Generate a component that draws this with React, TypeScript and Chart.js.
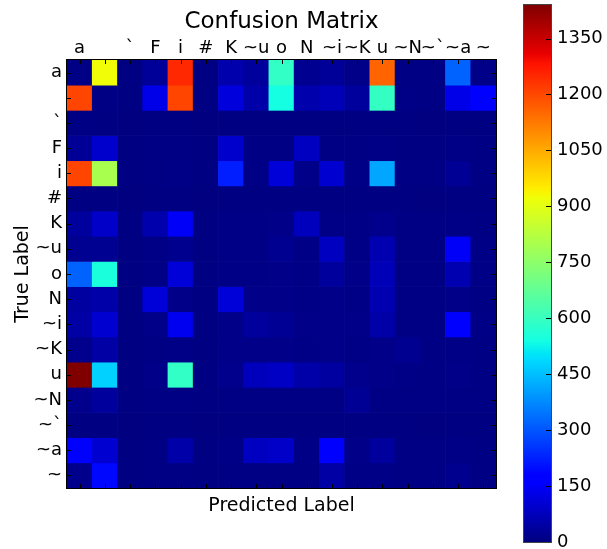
import React, { useEffect, useRef } from "react";
import { Chart, registerables } from "chart.js";

Chart.register(...registerables);
Chart.defaults.font.family = "'DejaVu Sans', sans-serif";
Chart.defaults.color = "#000";

// Class labels (rows = true label, columns = predicted label)
const classLabels = ["a", "", "`", "F", "i", "#", "K", "~u", "o", "N", "~i", "~K", "u", "~N", "~`", "~a", "~"];

// Confusion matrix counts, one array per true label
const rowA = [8, 925, 3, 30, 1250, 3, 55, 35, 590, 20, 30, 10, 1158, 5, 5, 320, 12];
const rowBlank = [1205, 5, 3, 130, 1205, 3, 115, 50, 540, 55, 70, 35, 595, 8, 5, 130, 175];
const rowGrave = [5, 3, 2, 3, 3, 2, 3, 3, 3, 3, 3, 3, 3, 3, 2, 3, 3];
const rowF = [28, 95, 3, 5, 5, 3, 95, 5, 5, 80, 5, 5, 8, 3, 3, 8, 5];
const rowI = [1205, 800, 3, 5, 8, 3, 222, 8, 110, 10, 100, 8, 415, 5, 5, 25, 5];
const rowHash = [3, 3, 2, 3, 3, 2, 3, 3, 3, 3, 3, 3, 3, 3, 2, 3, 3];
const rowK = [35, 90, 3, 55, 150, 3, 8, 8, 12, 75, 8, 8, 15, 5, 5, 8, 5];
const rowTildeU = [22, 22, 3, 8, 18, 3, 8, 8, 20, 8, 80, 8, 60, 5, 5, 150, 8];
const rowO = [320, 550, 3, 8, 110, 3, 8, 8, 12, 8, 35, 12, 70, 5, 5, 60, 8];
const rowN = [40, 50, 3, 110, 10, 3, 110, 10, 12, 8, 10, 8, 60, 5, 5, 10, 5];
const rowTildeI = [45, 100, 3, 10, 140, 3, 10, 35, 25, 10, 12, 12, 50, 5, 5, 160, 8];
const rowTildeK = [15, 45, 3, 5, 8, 3, 12, 12, 12, 8, 10, 8, 12, 20, 5, 8, 5];
const rowU = [1440, 475, 3, 10, 590, 3, 15, 75, 85, 50, 40, 15, 10, 8, 5, 10, 5];
const rowTildeN = [15, 35, 3, 5, 5, 3, 5, 5, 5, 5, 5, 25, 5, 5, 5, 5, 5];
const rowTildeGrave = [3, 3, 2, 3, 3, 2, 3, 3, 3, 3, 3, 3, 3, 3, 2, 3, 3];
const rowTildeA = [170, 100, 3, 5, 50, 3, 8, 80, 90, 8, 160, 12, 35, 5, 5, 8, 5];
const rowTilde = [15, 190, 3, 5, 5, 3, 5, 5, 5, 5, 45, 8, 8, 5, 5, 18, 5];

const matrix = [
  rowA, rowBlank, rowGrave, rowF, rowI, rowHash, rowK, rowTildeU, rowO,
  rowN, rowTildeI, rowTildeK, rowU, rowTildeN, rowTildeGrave, rowTildeA, rowTilde,
];

const vmin = 0;
const vmax = 1440;
const colorbarTicks = [0, 150, 300, 450, 600, 750, 900, 1050, 1200, 1350];

// matplotlib "jet" colormap
const JR = [[0, 0], [0.35, 0], [0.66, 1], [0.89, 1], [1, 0.5]];
const JG = [[0, 0], [0.125, 0], [0.375, 1], [0.64, 1], [0.91, 0], [1, 0]];
const JB = [[0, 0.5], [0.11, 1], [0.34, 1], [0.65, 0], [1, 0]];
const JET_STOPS = [0, 0.11, 0.125, 0.34, 0.35, 0.375, 0.64, 0.65, 0.66, 0.89, 0.91, 1];

function seg(x: number, pts: number[][]) {
  for (let i = 0; i < pts.length - 1; i++) {
    const [x0, y0] = pts[i];
    const [x1, y1] = pts[i + 1];
    if (x <= x1) return y0 + ((y1 - y0) * (x - x0)) / (x1 - x0 || 1);
  }
  return pts[pts.length - 1][1];
}
function jet(f: number) {
  const x = Math.max(0, Math.min(1, f));
  const r = Math.round(seg(x, JR) * 255);
  const g = Math.round(seg(x, JG) * 255);
  const b = Math.round(seg(x, JB) * 255);
  return `rgb(${r},${g},${b})`;
}

const matrixFrame = {
  id: "matrixFrame",
  afterDraw(chart: any) {
    const { ctx, chartArea } = chart;
    const { left, top, right, bottom } = chartArea;
    const xs = chart.scales.x;
    const ys = chart.scales.y;
    ctx.save();
    ctx.strokeStyle = "#000";
    ctx.lineWidth = 1;
    ctx.beginPath();
    for (let i = 0; i < classLabels.length; i++) {
      const px = Math.round(xs.getPixelForValue(i)) + 0.5;
      ctx.moveTo(px, top);
      ctx.lineTo(px, top + 4);
      ctx.moveTo(px, bottom);
      ctx.lineTo(px, bottom - 4);
      const py = Math.round(ys.getPixelForValue(i + 0.5)) + 0.5;
      ctx.moveTo(left, py);
      ctx.lineTo(left + 4, py);
      ctx.moveTo(right, py);
      ctx.lineTo(right - 4, py);
    }
    ctx.stroke();
    ctx.strokeRect(Math.round(left) - 0.5, Math.round(top) - 0.5, Math.round(right - left) + 1, Math.round(bottom - top) + 1);
    ctx.restore();
  },
};

const colorbarFrame = {
  id: "colorbarFrame",
  afterDraw(chart: any) {
    const { ctx, chartArea } = chart;
    const { left, top, right, bottom } = chartArea;
    const ys = chart.scales.y;
    ctx.save();
    ctx.strokeStyle = "#000";
    ctx.lineWidth = 1;
    ctx.beginPath();
    for (const v of colorbarTicks) {
      const py = Math.round(ys.getPixelForValue(v)) + 0.5;
      ctx.moveTo(right, py);
      ctx.lineTo(right - 5, py);
    }
    ctx.stroke();
    ctx.strokeStyle = "#444";
    ctx.strokeRect(Math.round(left) - 0.5, Math.round(top) - 0.5, Math.round(right - left) + 1, Math.round(bottom - top) + 1);
    ctx.restore();
  },
};

export default function App() {
  const matRef = useRef<HTMLCanvasElement>(null);
  const cbRef = useRef<HTMLCanvasElement>(null);

  useEffect(() => {
    const datasets = matrix.map((row, r) => ({
      label: classLabels[r] || " ",
      data: row.map(() => 1),
      backgroundColor: row.map((v) => jet((v - vmin) / (vmax - vmin))),
      borderWidth: 0,
      barPercentage: 1,
      categoryPercentage: 1,
    }));

    const mat = new Chart(matRef.current as HTMLCanvasElement, {
      type: "bar",
      data: { labels: classLabels, datasets },
      options: {
        responsive: false,
        animation: false,
        layout: { padding: 0 },
        plugins: {
          legend: { display: false },
          tooltip: { enabled: false },
          title: {
            display: true,
            text: "Confusion Matrix",
            color: "#000",
            font: { size: 23, weight: "normal" },
            padding: { top: 8, bottom: 0 },
          },
        },
        scales: {
          x: {
            type: "category",
            position: "top",
            stacked: true,
            grid: { display: false, drawTicks: false },
            border: { display: false },
            ticks: { font: { size: 18 }, padding: 1, maxRotation: 0, autoSkip: false },
            afterFit: (s: any) => { s.height = 24.4; s.paddingLeft = 0; s.paddingRight = 0; },
          },
          xb: {
            type: "category",
            position: "bottom",
            grid: { display: false, drawTicks: false },
            border: { display: false },
            ticks: { display: false },
            title: { display: true, text: "Predicted Label", font: { size: 19 }, padding: { top: 0, bottom: 32 } },
            afterFit: (s: any) => { s.height = 61; s.paddingLeft = 0; s.paddingRight = 0; },
          },
          y: {
            type: "linear",
            stacked: true,
            reverse: true,
            min: 0,
            max: classLabels.length,
            grid: { display: false, drawTicks: false },
            border: { display: false },
            afterBuildTicks: (s: any) => { s.ticks = classLabels.map((_, i) => ({ value: i + 0.5 })); },
            ticks: { font: { size: 18 }, padding: 5, autoSkip: false, callback: (_v: any, i: number) => classLabels[i] },
            title: { display: true, text: "True Label", font: { size: 19 }, padding: { top: 12, bottom: 0 } },
            afterFit: (s: any) => { s.width = 67; s.paddingTop = 0; s.paddingBottom = 0; },
          },
          yr: {
            type: "linear",
            position: "right",
            min: 0,
            max: 1,
            grid: { display: false, drawTicks: false },
            border: { display: false },
            ticks: { display: false },
            afterFit: (s: any) => { s.width = 67; s.paddingTop = 0; s.paddingBottom = 0; },
          },
        },
      } as any,
      plugins: [matrixFrame],
    });

    const cb = new Chart(cbRef.current as HTMLCanvasElement, {
      type: "bar",
      data: {
        labels: [""],
        datasets: [
          {
            data: [[vmin, vmax]] as any,
            borderWidth: 0,
            barPercentage: 1,
            categoryPercentage: 1,
            backgroundColor: (c: any) => {
              const a = c.chart.chartArea;
              if (!a) return "#00f";
              const g = c.chart.ctx.createLinearGradient(0, a.bottom, 0, a.top);
              JET_STOPS.forEach((s) => g.addColorStop(s, jet(s)));
              return g;
            },
          },
        ],
      },
      options: {
        responsive: false,
        animation: false,
        layout: { padding: { left: 24, top: 5, bottom: 7, right: 0 } },
        plugins: { legend: { display: false }, tooltip: { enabled: false }, title: { display: false } },
        scales: {
          x: { display: false },
          y: {
            position: "right",
            min: vmin,
            max: vmax,
            grid: { display: false, drawTicks: false },
            border: { display: false },
            afterBuildTicks: (s: any) => { s.ticks = colorbarTicks.map((v) => ({ value: v })); },
            ticks: { font: { size: 18 }, padding: 6, color: "#000", callback: (v: any) => String(v) },
            afterFit: (s: any) => { s.width = 56; s.paddingTop = 0; s.paddingBottom = 0; },
          },
        },
      } as any,
      plugins: [colorbarFrame],
    });

    return () => {
      mat.destroy();
      cb.destroy();
    };
  }, []);

  return (
    <div style={{ position: "fixed", left: 0, top: 0, width: 607, height: 549, background: "#fff" }}>
      <canvas ref={matRef} width={563} height={549} style={{ position: "absolute", left: 0, top: 0 }} />
      <canvas ref={cbRef} width={107} height={549} style={{ position: "absolute", left: 500, top: 0 }} />
    </div>
  );
}
